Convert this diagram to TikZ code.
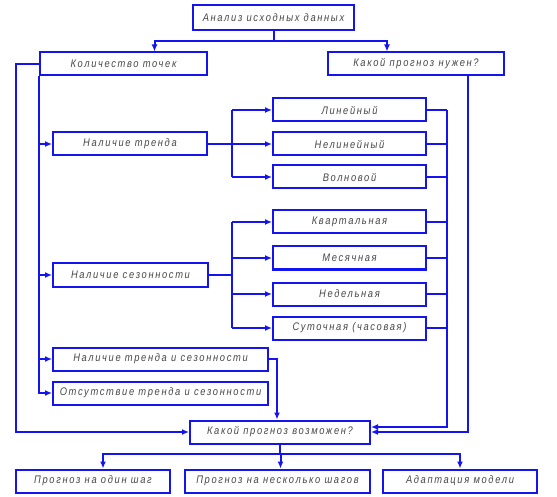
\documentclass[tikz,border=0pt]{standalone}
\usepackage{fontspec}
\newfontfamily\gost[LetterSpace=15,FakeStretch=0.85]{Liberation Sans}
\usetikzlibrary{arrows.meta,positioning}
\definecolor{linkblue}{RGB}{20,20,240}
\definecolor{txtgray}{RGB}{70,70,70}

\begin{document}
\begin{tikzpicture}[x=1pt, y=-1pt, font=\gost\itshape\fontsize{11}{13}\selectfont,
  >={Latex[length=7pt,width=6pt]},
  blk/.style={draw=linkblue, line width=2pt, minimum height=23pt, inner sep=0pt, text=txtgray},
  lnk/.style={draw=linkblue, line width=2pt}]
  \useasboundingbox (0,0) rectangle (557,497);
  % top level
  \node[blk, minimum width=161pt, minimum height=25pt] (src) at (273.5,18) {Анализ исходных данных};
  \node[blk, minimum width=167pt] (cnt) at (123.5,64) {Количество точек};
  \node[blk, minimum width=176pt] (need) at (416,64) {Какой прогноз нужен?};
  % trend
  \node[blk, minimum width=154pt] (tr) at (130,144) {Наличие тренда};
  \node[blk, minimum width=153pt] (lin) at (349.5,110) {Линейный};
  \node[blk, minimum width=153pt] (nlin) at (349.5,144) {Нелинейный};
  \node[blk, minimum width=153pt] (wav) at (349.5,177) {Волновой};
  % seasonality
  \node[blk, minimum width=155pt] (ss) at (130.5,275) {Наличие сезонности};
  \node[blk, minimum width=153pt] (kv) at (349.5,222) {Квартальная};
  \node[blk, minimum width=153pt] (mes) at (349.5,258) {Месячная};
  \node[blk, minimum width=153pt] (ned) at (349.5,294) {Недельная};
  \node[blk, minimum width=153pt] (sut) at (349.5,328) {Суточная (часовая)};
  \node[blk, minimum width=215pt] (ts) at (160.5,359) {Наличие тренда и сезонности};
  \node[blk, minimum width=215pt] (nts) at (160.5,393) {Отсутствие тренда и сезонности};
  % result
  \node[blk, minimum width=180pt] (poss) at (280,432) {Какой прогноз возможен?};
  \node[blk, minimum width=154pt] (one) at (93,481) {Прогноз на один шаг};
  \node[blk, minimum width=185pt] (sev) at (277.5,481) {Прогноз на несколько шагов};
  \node[blk, minimum width=154pt] (ad) at (460,481) {Адаптация модели};

  \coordinate (ob) at (16,64);
  \coordinate (tb) at (232,144);
  \coordinate (sb) at (232,275);
  \coordinate (rb) at (447,110);
  \coordinate (bj) at (281,454);

  \draw[lnk,->] (src.south) -- ++(0,10) -| ([xshift=31pt]cnt.north);
  \draw[lnk,->] (src.south) -- ++(0,10) -| ([xshift=-29pt]need.north);
  % left column
  \draw[lnk,->] (cnt.south west) |- (nts.west);
  \foreach \n in {tr,ss,ts}
    \draw[lnk,->] (cnt.south west |- \n.west) -- (\n.west);
  \draw[lnk,->] (cnt.west) -- (cnt.west -| ob) |- (poss.west);
  % branches
  \draw[lnk] (tr.east) -- (tb);
  \draw[lnk] (tb |- lin.west) -- (tb |- wav.west);
  \foreach \n in {lin,nlin,wav}
    \draw[lnk,->] (tb |- \n.west) -- (\n.west);
  \draw[lnk] (ss.east) -- (sb);
  \draw[lnk] (sb |- kv.west) -- (sb |- sut.west);
  \foreach \n in {kv,mes,ned,sut}
    \draw[lnk,->] (sb |- \n.west) -- (\n.west);
  % right bus
  \foreach \n in {lin,nlin,wav,kv,mes,ned,sut}
    \draw[lnk] (\n.east) -- (\n.east -| rb);
  \draw[lnk,->] (rb) |- ([yshift=5pt]poss.east);
  \draw[lnk,->] ([xshift=52pt]need.south) |- (poss.east);
  \draw[lnk,->] (ts.east) -| ([xshift=-3pt]poss.north);
  % bottom
  \draw[lnk] (poss.south) -- (poss.south |- bj);
  \draw[lnk,->] (poss.south |- bj) -| ([xshift=10pt]one.north);
  \draw[lnk,->] (poss.south |- bj) -| ([xshift=3pt]sev.north);
  \draw[lnk,->] (poss.south |- bj) -| (ad.north);
\end{tikzpicture}
\end{document}
